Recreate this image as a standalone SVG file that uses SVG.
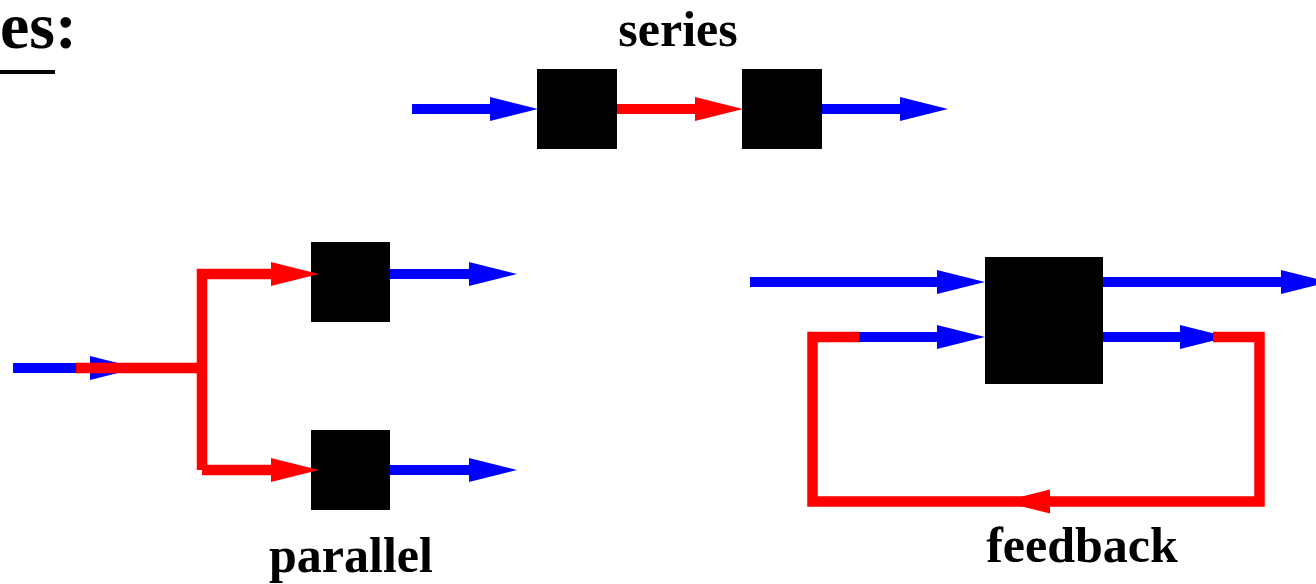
<svg xmlns="http://www.w3.org/2000/svg" width="1316" height="584" viewBox="0 0 1316 584">
<style>
.lbl{font-family:"Liberation Serif","Times New Roman",serif;font-weight:bold;fill:#000}
.box{fill:#000}
.b{stroke:#0000ff;stroke-width:10;fill:none}
.r{stroke:#ff0000;stroke-width:10.5;fill:none;stroke-linejoin:miter}
.hb{fill:#0000ff}
.hr{fill:#ff0000}
</style>
<rect width="1316" height="584" fill="#fff"/>
<g id="title">
<text class="lbl" x="0" y="48" font-size="66">es:</text>
<rect x="0" y="70" width="55" height="4" fill="#000"/>
</g>
<g id="labels">
<text class="lbl" x="678" y="46" font-size="50" text-anchor="middle">series</text>
<text class="lbl" x="351" y="572" font-size="50" text-anchor="middle">parallel</text>
<text class="lbl" x="1082" y="562" font-size="50" text-anchor="middle">feedback</text>
</g>
<g id="series-box1"><rect class="box" x="537" y="69" width="80" height="80"/></g>
<g id="series-box2"><rect class="box" x="742" y="69" width="80" height="80"/></g>
<g id="parallel-box1"><rect class="box" x="311" y="242" width="79" height="80"/></g>
<g id="parallel-box2"><rect class="box" x="311" y="430" width="79" height="80"/></g>
<g id="feedback-box"><rect class="box" x="985" y="257" width="118" height="127"/></g>
<g id="connectors">
<line class="b" x1="412" y1="109" x2="492" y2="109"/>
<polygon class="hb" points="490,97 538,109 490,121"/>
<line class="r" x1="617" y1="109" x2="697" y2="109" style="stroke-width:10"/>
<polygon class="hr" points="695,97 743,109 695,121"/>
<line class="b" x1="822" y1="109" x2="902" y2="109"/>
<polygon class="hb" points="900,97 948,109 900,121"/>
<line class="b" x1="13" y1="368" x2="92" y2="368"/>
<polygon class="hb" points="90,356 138,368 90,380"/>
<polyline class="r" points="76,368 202,368"/>
<polyline class="r" points="202,368 202,274 275,274"/>
<polygon class="hr" points="271,262 319,274 271,286"/>
<line class="r" x1="202" y1="368" x2="202" y2="470"/>
<line class="r" x1="202" y1="470" x2="275" y2="470"/>
<polygon class="hr" points="271,458 319,470 271,482"/>
<line class="b" x1="390" y1="274" x2="471" y2="274"/>
<polygon class="hb" points="469,262 517,274 469,286"/>
<line class="b" x1="390" y1="470" x2="471" y2="470"/>
<polygon class="hb" points="469,458 517,470 469,482"/>
<line class="b" x1="750" y1="282" x2="939" y2="282"/>
<polygon class="hb" points="937,270 985,282 937,294"/>
<line class="b" x1="1103" y1="282" x2="1283" y2="282"/>
<polygon class="hb" points="1281,270 1329,282 1281,294"/>
<line class="b" x1="859" y1="337" x2="939" y2="337"/>
<polygon class="hb" points="937,325 985,337 937,349"/>
<line class="b" x1="1103" y1="337" x2="1182" y2="337"/>
<polygon class="hb" points="1180,325 1228,337 1180,349"/>
<polyline class="r" points="1213,337 1259.5,337 1259.5,501.5 812.5,501.5 812.5,337 859,337"/>
<polygon class="hr" points="1050,489.5 1002,501.5 1050,513.5"/>
</g>
</svg>
